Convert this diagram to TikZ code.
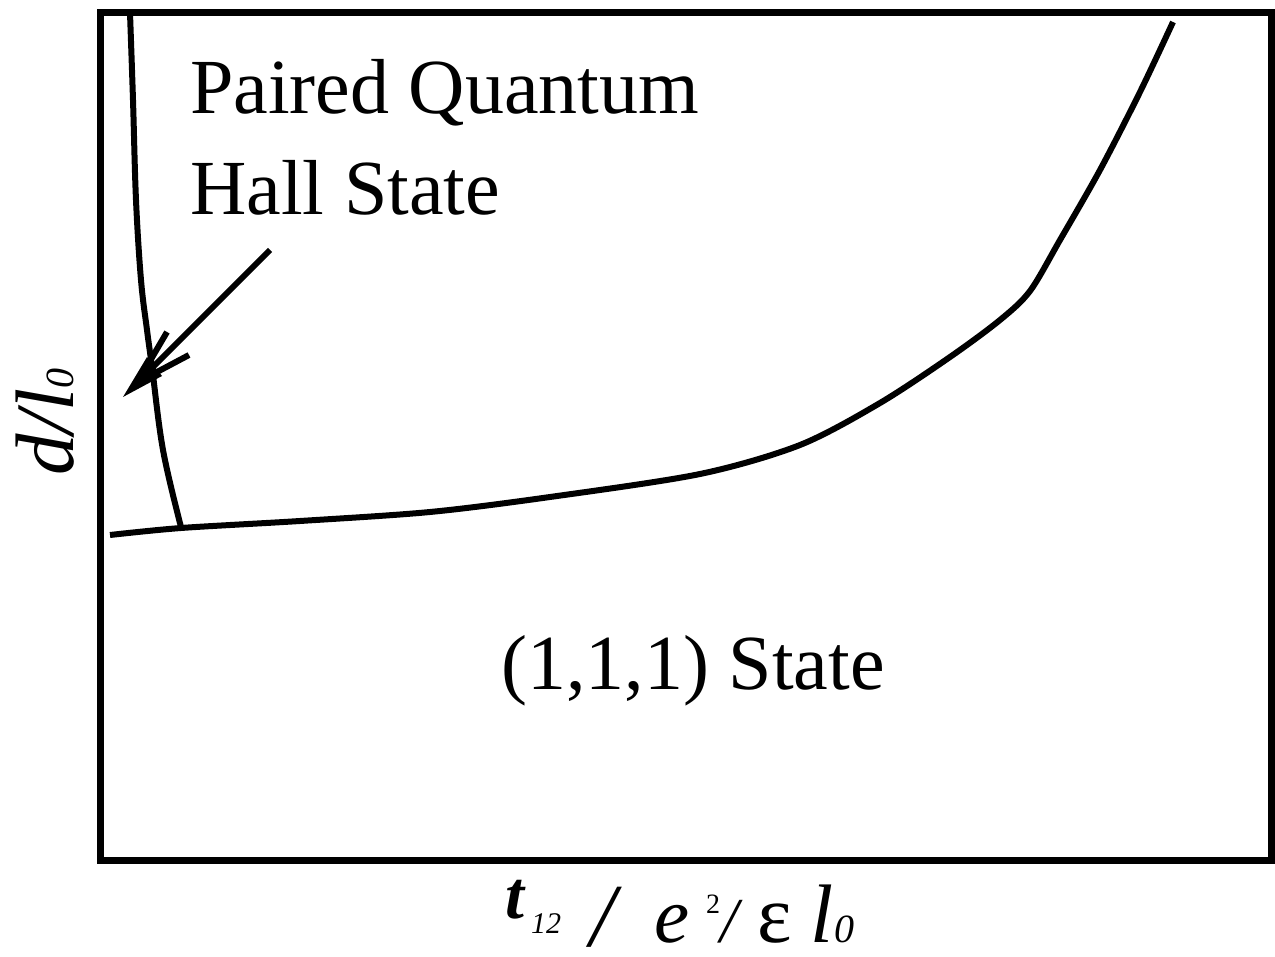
\documentclass[tikz,border=0pt]{standalone}
\usepackage{fontspec}
\setmainfont{Liberation Serif}
\begin{document}
\begin{tikzpicture}[x=1pt,y=-1pt,
  lbl/.style={inner sep=0pt,anchor=base west},
  curve/.style={line width=6pt,line join=round}]
\useasboundingbox (0,0) rectangle (1275,957);
% frame
\draw[line width=7pt] (100,13) rectangle (1271,860);
% left phase boundary
\draw[curve] plot[smooth,tension=0.6] coordinates {(130,13) (133,100) (136,200) (141,280) (147,330) (152,367) (163,450) (181,527)};
% lower phase boundary
\draw[curve] plot[smooth,tension=0.5] coordinates {(110,535) (181,528) (300,521) (430,512) (550,497) (700,474) (800,445) (880,403) (950,357) (1000,320) (1030,291) (1060,240) (1100,170) (1140,92) (1173,22)};
% arrow
\coordinate (atail) at (270,250);
\coordinate (ajoin) at (152,368);
\coordinate (atip) at (123,397);
\draw[line width=6pt] (atail) -- (ajoin);
\fill (atip) -- (147,357) -- (162,376) -- cycle;
\draw[line width=6pt] (150,361) -- (167,332);
\draw[line width=6pt] (157,372) -- (189,355);
% labels
\node[lbl] (pq) at (190,114) {\fontsize{78}{94}\selectfont Paired Quantum};
\node[lbl] (hs) at (190,215) {\fontsize{78}{94}\selectfont Hall State};
\node[lbl] (s111) at (501,689) {\fontsize{78}{94}\selectfont (1,1,1) State};
% y label
\node[lbl,rotate=90] (ylab) at (73,476) {\fontsize{83}{100}\selectfont\itshape d/l\fontsize{40}{48}\selectfont 0};
% x label
\node[lbl] (xt) at (505,918) {\fontsize{68}{80}\selectfont\bfseries\itshape t};
\node[lbl] (x12) at (531,933) {\fontsize{30}{36}\selectfont\itshape 12};
\node[lbl] (xs1) at (590,946) {\fontsize{90}{110}\selectfont\itshape /};
\node[lbl] (xe) at (654,942) {\fontsize{79}{95}\selectfont\itshape e};
\node[lbl] (x2) at (706,913) {\fontsize{28}{32}\selectfont 2};
\node[lbl] (xs2) at (720,942) {\fontsize{64}{77}\selectfont\itshape /};
\node[lbl] (xeps) at (757,942) {\fontsize{82}{96}\selectfont ε};
\node[lbl] (xl) at (810,942) {\fontsize{83}{100}\selectfont\itshape l};
\node[lbl] (x0) at (834,942) {\fontsize{40}{48}\selectfont\itshape 0};
\end{tikzpicture}
\end{document}
